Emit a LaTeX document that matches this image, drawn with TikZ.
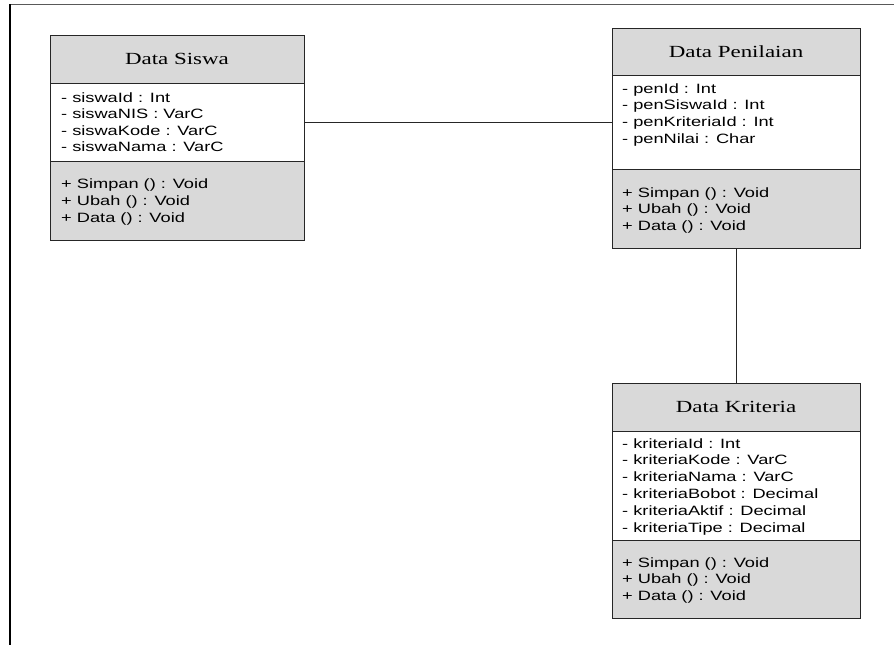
\documentclass[tikz,border=0pt]{standalone}
\usepackage{fontspec}
\setmainfont[FakeStretch=1.35]{Liberation Serif}
\newfontfamily\arialf[FakeStretch=1.35]{Liberation Sans}
\definecolor{hdrgray}{HTML}{D9D9D9}
\begin{document}
\begin{tikzpicture}[x=1pt,y=-1pt,
  comp/.style={draw=black!85, line width=0.9pt, anchor=north west, inner sep=0pt, outer sep=0pt},
  grayc/.style={comp, fill=hdrgray},
  whitec/.style={comp, fill=white},
  ttl/.style={font=\fontsize{17}{20}\selectfont},
  attr/.style={font=\arialf\fontsize{13.5}{16}\selectfont, anchor=base west, inner sep=0pt},
  link/.style={draw=black!85, line width=0.9pt}]
\useasboundingbox (0,0) rectangle (894,645);
% frame
\draw[black!65, line width=1.5pt] (10,4.5) -- (894,4.5);
\draw[black, line width=1.5pt] (10,4) -- (10,645);
% Data Siswa
\node[grayc, minimum width=254pt, minimum height=48pt] (sH) at (50,35) {};
\node[ttl] (sT) at ([yshift=0pt]sH.center) {Data Siswa};
\node[whitec, minimum width=254pt, minimum height=78pt] (sA) at (50,83) {};
\node[grayc, minimum width=254pt, minimum height=79pt] (sM) at (50,161) {};
\foreach \t [count=\i] in {{- siswaId : Int},{- siswaNIS : VarC},{- siswaKode : VarC},{- siswaNama : VarC}}
  \node[attr] (sa\i) at (61,{102+(\i-1)*16.6}) {\t};
\foreach \t [count=\i] in {{+ Simpan () : Void},{+ Ubah () : Void},{+ Data () : Void}}
  \node[attr] (sm\i) at (61,{188+(\i-1)*17}) {\t};
% Data Penilaian
\node[grayc, minimum width=248pt, minimum height=47pt] (pH) at (612,28) {};
\node[ttl] (pT) at (pH.center) {Data Penilaian};
\node[whitec, minimum width=248pt, minimum height=94pt] (pA) at (612,75) {};
\node[grayc, minimum width=248pt, minimum height=79pt] (pM) at (612,169) {};
\foreach \t [count=\i] in {{- penId : Int},{- penSiswaId : Int},{- penKriteriaId : Int},{- penNilai : Char}}
  \node[attr] (pa\i) at (622,{93+(\i-1)*16.7}) {\t};
\foreach \t [count=\i] in {{+ Simpan () : Void},{+ Ubah () : Void},{+ Data () : Void}}
  \node[attr] (pm\i) at (622,{197+(\i-1)*16.6}) {\t};
% Data Kriteria
\node[grayc, minimum width=248pt, minimum height=48pt] (kH) at (612,383) {};
\node[ttl] (kT) at (kH.center) {Data Kriteria};
\node[whitec, minimum width=248pt, minimum height=109pt] (kA) at (612,431) {};
\node[grayc, minimum width=248pt, minimum height=78pt] (kM) at (612,540) {};
\foreach \t [count=\i] in {{- kriteriaId : Int},{- kriteriaKode : VarC},{- kriteriaNama : VarC},{- kriteriaBobot : Decimal},{- kriteriaAktif : Decimal},{- kriteriaTipe : Decimal}}
  \node[attr] (ka\i) at (622,{448+(\i-1)*16.8}) {\t};
\foreach \t [count=\i] in {{+ Simpan () : Void},{+ Ubah () : Void},{+ Data () : Void}}
  \node[attr] (km\i) at (622,{567+(\i-1)*16.6}) {\t};
% connectors
\draw[link] (sA.east) -- (pA.west);
\draw[link] (pM.south) -- (kH.north);
\end{tikzpicture}
\end{document}
